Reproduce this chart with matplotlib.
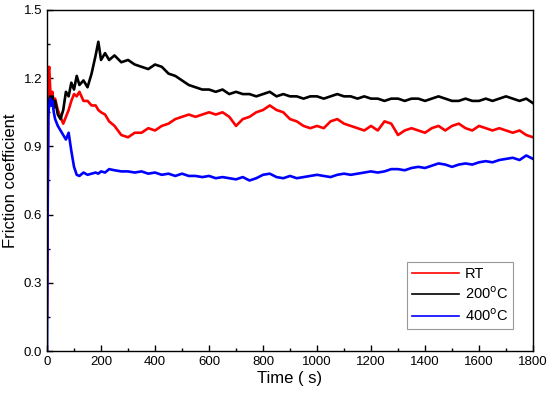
import numpy as np
import matplotlib
matplotlib.use('Agg')
import matplotlib.pyplot as plt
from matplotlib.ticker import MultipleLocator

plt.rcParams['font.family'] = ['Liberation Sans', 'DejaVu Sans']

# time axis (s): dense at start, then every 25 s
t_early = [0, 2, 5, 8, 12, 16, 20, 25, 30, 40, 50, 60, 70, 80, 90, 100, 110,
           120, 135, 150, 165, 180, 190, 200, 215, 230, 250]
t_late = list(range(275, 1801, 25))
time = np.array(t_early + t_late)

mu_rt = [0.15, 0.50, 1.22, 1.25, 1.15, 1.10, 1.14, 1.08, 1.11, 1.06, 1.03, 1.00, 1.03,
         1.06, 1.10, 1.13, 1.12, 1.14, 1.10, 1.10, 1.08, 1.08, 1.06, 1.05, 1.04, 1.01, 0.99,
         0.95, 0.94, 0.96, 0.96, 0.98, 0.97, 0.99, 1.00, 1.02, 1.03, 1.04, 1.03, 1.04, 1.05,
         1.04, 1.05, 1.03, 0.99, 1.02, 1.03, 1.05, 1.06, 1.08, 1.06, 1.05, 1.02, 1.01, 0.99,
         0.98, 0.99, 0.98, 1.01, 1.02, 1.00, 0.99, 0.98, 0.97, 0.99, 0.97, 1.01, 1.00, 0.95,
         0.97, 0.98, 0.97, 0.96, 0.98, 0.99, 0.97, 0.99, 1.00, 0.98, 0.97, 0.99, 0.98, 0.97,
         0.98, 0.97, 0.96, 0.97, 0.95, 0.94]

mu_200 = [0.98, 1.02, 1.06, 1.10, 1.12, 1.08, 1.12, 1.07, 1.10, 1.04, 1.02, 1.06, 1.14,
          1.12, 1.18, 1.15, 1.21, 1.17, 1.19, 1.16, 1.22, 1.30, 1.36, 1.28, 1.31, 1.28, 1.30,
          1.27, 1.28, 1.26, 1.25, 1.24, 1.26, 1.25, 1.22, 1.21, 1.19, 1.17, 1.16, 1.15, 1.15,
          1.14, 1.15, 1.13, 1.14, 1.13, 1.13, 1.12, 1.13, 1.14, 1.12, 1.13, 1.12, 1.12, 1.11,
          1.12, 1.12, 1.11, 1.12, 1.13, 1.12, 1.12, 1.11, 1.12, 1.11, 1.11, 1.10, 1.11, 1.11,
          1.10, 1.11, 1.11, 1.10, 1.11, 1.12, 1.11, 1.10, 1.10, 1.11, 1.10, 1.10, 1.11, 1.10,
          1.11, 1.12, 1.11, 1.10, 1.11, 1.09]

mu_400 = [0.0, 0.60, 1.05, 1.08, 1.11, 1.08, 1.10, 1.05, 1.02, 0.99, 0.97, 0.95, 0.93,
          0.96, 0.88, 0.81, 0.775, 0.77, 0.785, 0.775, 0.78, 0.785, 0.78, 0.79, 0.785, 0.80, 0.795,
          0.79, 0.79, 0.785, 0.79, 0.78, 0.785, 0.775, 0.78, 0.77, 0.78, 0.77, 0.77, 0.765, 0.77,
          0.76, 0.765, 0.76, 0.755, 0.765, 0.75, 0.76, 0.775, 0.78, 0.765, 0.76, 0.77, 0.76, 0.765,
          0.77, 0.775, 0.77, 0.765, 0.775, 0.78, 0.775, 0.78, 0.785, 0.79, 0.785, 0.79, 0.80, 0.80,
          0.795, 0.805, 0.81, 0.805, 0.815, 0.825, 0.82, 0.81, 0.82, 0.825, 0.82, 0.83, 0.835, 0.83,
          0.84, 0.845, 0.85, 0.84, 0.86, 0.845]

fig = plt.figure(figsize=(5.5, 3.98), dpi=100)
ax = fig.add_axes([0.0855, 0.118, 0.8836, 0.857])

ax.plot(time, mu_rt, color='#ff0000', lw=1.9, label='RT')
ax.plot(time, mu_200, color='black', lw=1.9, label=r'200$^\mathrm{o}$C')
ax.plot(time, mu_400, color='#0000ff', lw=1.9, label=r'400$^\mathrm{o}$C')

ax.set_xlim(0, 1800)
ax.set_ylim(0, 1.5)
ax.xaxis.set_major_locator(MultipleLocator(200))
ax.xaxis.set_minor_locator(MultipleLocator(100))
ax.yaxis.set_major_locator(MultipleLocator(0.3))
ax.yaxis.set_minor_locator(MultipleLocator(0.15))
ax.yaxis.set_major_formatter(matplotlib.ticker.FormatStrFormatter('%.1f'))
ax.tick_params(which='both', direction='in', top=False, right=False, labelsize=9.5)
ax.tick_params(which='major', length=4, width=1)
ax.tick_params(which='minor', length=2.5, width=1)
for s in ax.spines.values():
    s.set_linewidth(1)

ax.set_xlabel('Time ( s)', fontsize=12, labelpad=2)
ax.set_ylabel('Friction coefficient', fontsize=12, labelpad=4)

leg = ax.legend(loc='lower right', bbox_to_anchor=(0.959, 0.064), fontsize=10.5,
                fancybox=False, edgecolor='#999999', framealpha=1,
                handlelength=3.2, handletextpad=0.4, labelspacing=0.35,
                borderpad=0.35, borderaxespad=0)
leg.get_frame().set_linewidth(0.8)
for h in leg.get_lines():
    h.set_linewidth(1.2)

plt.savefig('out.png', dpi=100)
plt.close()
